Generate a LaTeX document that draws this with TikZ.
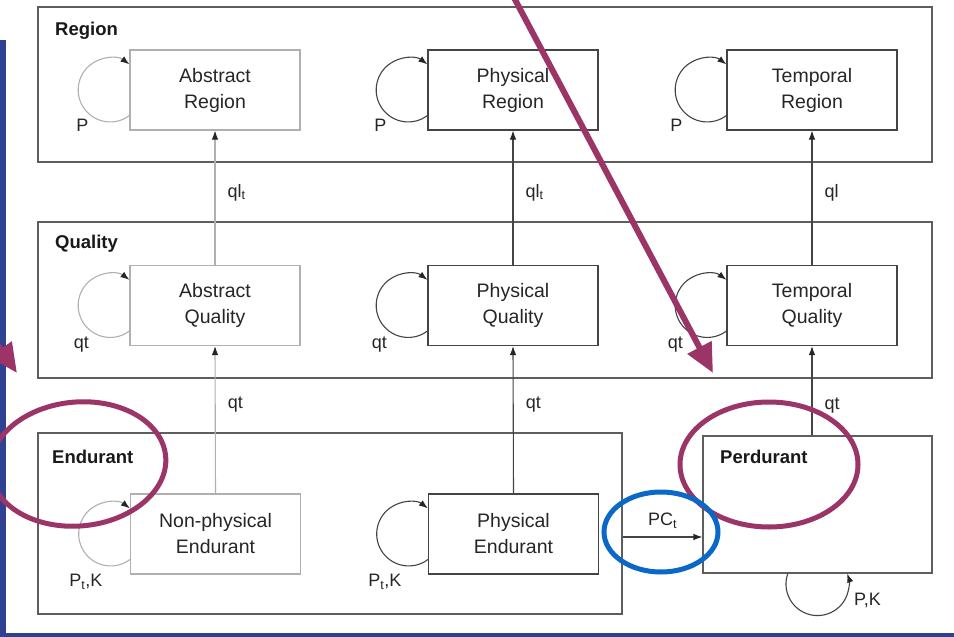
\documentclass[tikz,border=0pt]{standalone}
\usepackage{fontspec}
\setmainfont{Liberation Sans}
\usetikzlibrary{calc,arrows.meta}
\definecolor{slideblue}{HTML}{2F4190}
\definecolor{magen}{HTML}{9B3467}
\definecolor{ringblue}{HTML}{0A68C8}
\definecolor{lightg}{HTML}{B0B0B0}
\definecolor{darkg}{HTML}{444444}
\definecolor{frameg}{HTML}{5E5E5E}
\tikzset{
  innerbox/.style={draw=#1, line width=1.1pt, minimum width=170pt, minimum height=80pt,
    align=center, font=\fontsize{19.5}{26}\selectfont, text=black!85, inner sep=0pt},
  outerbox/.style={draw=frameg, line width=1.1pt, inner sep=0pt},
  boxtitle/.style={anchor=north west, inner sep=0pt, font=\fontsize{18.5}{22}\selectfont\bfseries, text=black!90},
  edgelab/.style={inner sep=0pt, font=\fontsize{18}{20}\selectfont, text=black!85},
  uparr/.style={draw=#1, line width=1.1pt, -{Latex[length=9pt,width=6.5pt,color=black!85]}},
  loopline/.style={draw=#1, line width=1.1pt, -{Latex[length=9pt,width=6.5pt,color=black!85]}},
  bigarrow/.style={draw=magen, line width=6pt, -{Triangle[length=29pt,width=26pt]}},
  ring/.style={draw=#1, line width=5pt}
}
\newcommand\myselfloop[4]{%
  \draw[loopline=#2] ($(#1.west)+(0,25.5)$) arc[start angle=53, end angle=307, radius=32];
  \node[edgelab] (#1-lab) at ($(#1.west)+#4$) {#3};
}
\begin{document}
\begin{tikzpicture}[x=1pt,y=-1pt]
\useasboundingbox (0,0) rectangle (954,637);
\fill[white] (0,0) rectangle (954,637);
\fill[slideblue] (0,40) rectangle (6,637);
\fill[slideblue] (0,633) rectangle (954,637);

% outer boxes
\node[outerbox, minimum width=894pt, minimum height=155pt] (R) at (485,84.5) {};
\node[outerbox, minimum width=894pt, minimum height=156pt] (Q) at (485,300) {};
\node[outerbox, minimum width=584pt, minimum height=181pt] (E) at (330,523.5) {};
\node[outerbox, minimum width=229pt, minimum height=137pt] (P) at (817.5,504.5) {};

\node[boxtitle] (Rt) at (55,22) {Region};
\node[boxtitle] (Qt) at (55,235) {Quality};
\node[boxtitle] (Et) at (52,450) {Endurant};
\node[boxtitle] (Pt) at (720,450) {Perdurant};

% inner boxes
\node[innerbox=lightg] (AR) at (215,90) {Abstract\\Region};
\node[innerbox=darkg] (PR) at (513,90) {Physical\\Region};
\node[innerbox=darkg] (TR) at (812,90) {Temporal\\Region};
\node[innerbox=lightg] (AQ) at (215,305.5) {Abstract\\Quality};
\node[innerbox=darkg] (PQ) at (513,305.5) {Physical\\Quality};
\node[innerbox=darkg] (TQ) at (812,305.5) {Temporal\\Quality};
\node[innerbox=lightg] (NE) at (215.5,534) {Non-physical\\Endurant};
\node[innerbox=darkg] (PE) at (513.5,534) {Physical\\Endurant};

% self loops
\myselfloop{AR}{lightg}{P}{(-47,35)}
\myselfloop{PR}{darkg}{P}{(-47,35)}
\myselfloop{TR}{darkg}{P}{(-50,35)}
\myselfloop{AQ}{lightg}{qt}{(-48,39)}
\myselfloop{PQ}{darkg}{qt}{(-48,39)}
\myselfloop{TQ}{darkg}{qt}{(-51,39)}
\myselfloop{NE}{lightg}{P\textsubscript{t},K}{(-44,48)}
\myselfloop{PE}{darkg}{P\textsubscript{t},K}{(-43,48)}

% perdurant loop
\draw[loopline=darkg] ($(P.south)+(-29.7,0)$) arc[start angle=199.5, end angle=-19.5, radius=31.5];
\node[edgelab] (Plab) at ($(P.south)+(50,27)$) {P,K};

% vertical arrows
\draw[uparr=lightg] (AQ.north) -- (AR.south)
  node[edgelab, pos=0.54, anchor=west, xshift=12pt] (l1) {ql\textsubscript{t}};
\draw[uparr=darkg] (PQ.north) -- (PR.south)
  node[edgelab, pos=0.54, anchor=west, xshift=12pt] (l2) {ql\textsubscript{t}};
\draw[uparr=darkg] (TQ.north) -- (TR.south)
  node[edgelab, pos=0.54, anchor=west, xshift=12pt] (l3) {ql};
\draw[uparr=lightg] (NE.north) -- (AQ.south)
  node[edgelab, pos=0.6, anchor=west, xshift=12pt] (l4) {qt};
\draw[uparr=darkg] (PE.north) -- (PQ.south)
  node[edgelab, pos=0.6, anchor=west, xshift=12pt] (l5) {qt};
\draw[uparr=darkg] (TQ.south |- P.north) -- (TQ.south)
  node[edgelab, pos=0.34, anchor=west, xshift=12pt] (l6) {qt};

% PC_t
\coordinate (pcy) at (0,537);
\draw[uparr=darkg] (E.east |- pcy) -- (P.west |- pcy)
  node[edgelab, midway, above=8pt] (l7) {PC\textsubscript{t}};

% annotations
\draw[ring=magen, rotate around={5:(78,464)}] (78,464) ellipse [x radius=88, y radius=62];
\draw[ring=magen] (769,464.5) ellipse [x radius=89, y radius=62.5];
\draw[ring=ringblue] (661,532) ellipse [x radius=57, y radius=40];
\coordinate (a1s) at (511,-8);
\coordinate (a1e) at (713,373);
\draw[bigarrow] (a1s) -- (a1e);
\coordinate (a2s) at (-60,262);
\coordinate (a2e) at (17,373);
\draw[bigarrow] (a2s) -- (a2e);
\end{tikzpicture}
\end{document}
